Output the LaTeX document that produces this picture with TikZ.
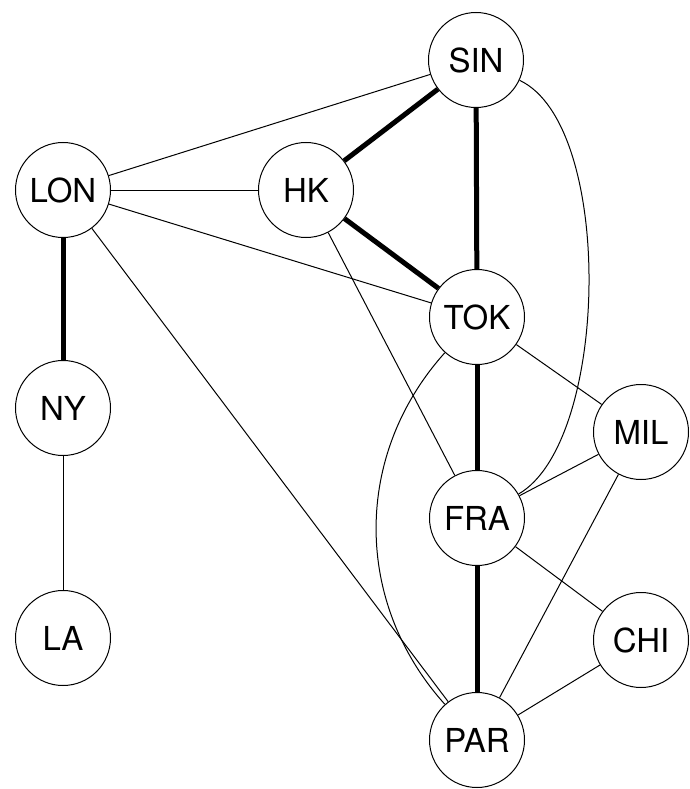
\documentclass[tikz,border=0pt]{standalone}
\usepackage{fontspec}
\setmainfont{TeX Gyre Heros}
\usetikzlibrary{positioning}

\begin{document}
\begin{tikzpicture}[
    x=1pt, y=-1pt,
    city/.style={draw, circle, line width=1pt, minimum size=95pt, inner sep=0pt, font=\fontsize{33}{33}\selectfont},
    link/.style={line width=1pt},
    trunk/.style={line width=5pt}
  ]
    \useasboundingbox (0,0) rectangle (689,789);

    \node[city] (SIN) at (476,60) {SIN};
    \node[city] (LON) at (63,190) {LON};
    \node[city] (HK) at (306,190) {HK};
    \node[city] (TOK) at (477,317) {TOK};
    \node[city] (NY) at (63,408) {NY};
    \node[city] (MIL) at (641,432) {MIL};
    \node[city] (FRA) at (477,518) {FRA};
    \node[city] (LA) at (63,638) {LA};
    \node[city] (CHI) at (641,640) {CHI};
    \node[city] (PAR) at (477,740) {PAR};

    \draw[link] (LON) -- (SIN);
    \draw[link] (LON) -- (HK);
    \draw[link] (LON) -- (TOK);
    \draw[link] (LON) -- (PAR);
    \draw[trunk] (LON) -- (NY);
    \draw[link] (NY) -- (LA);
    \draw[trunk] (HK) -- (SIN);
    \draw[trunk] (HK) -- (TOK);
    \draw[link] (HK) -- (FRA);
    \draw[trunk] (SIN) -- (TOK);
    \draw[link] (SIN) to[out=-25, in=30, looseness=0.65] (FRA);
    \draw[trunk] (TOK) -- (FRA);
    \draw[link] (TOK) -- (MIL);
    \draw[link] (TOK) to[bend right=42] (PAR);
    \draw[link] (FRA) -- (MIL);
    \draw[trunk] (FRA) -- (PAR);
    \draw[link] (FRA) -- (CHI);
    \draw[link] (MIL) -- (PAR);
    \draw[link] (CHI) -- (PAR);
  \end{tikzpicture}
\end{document}
